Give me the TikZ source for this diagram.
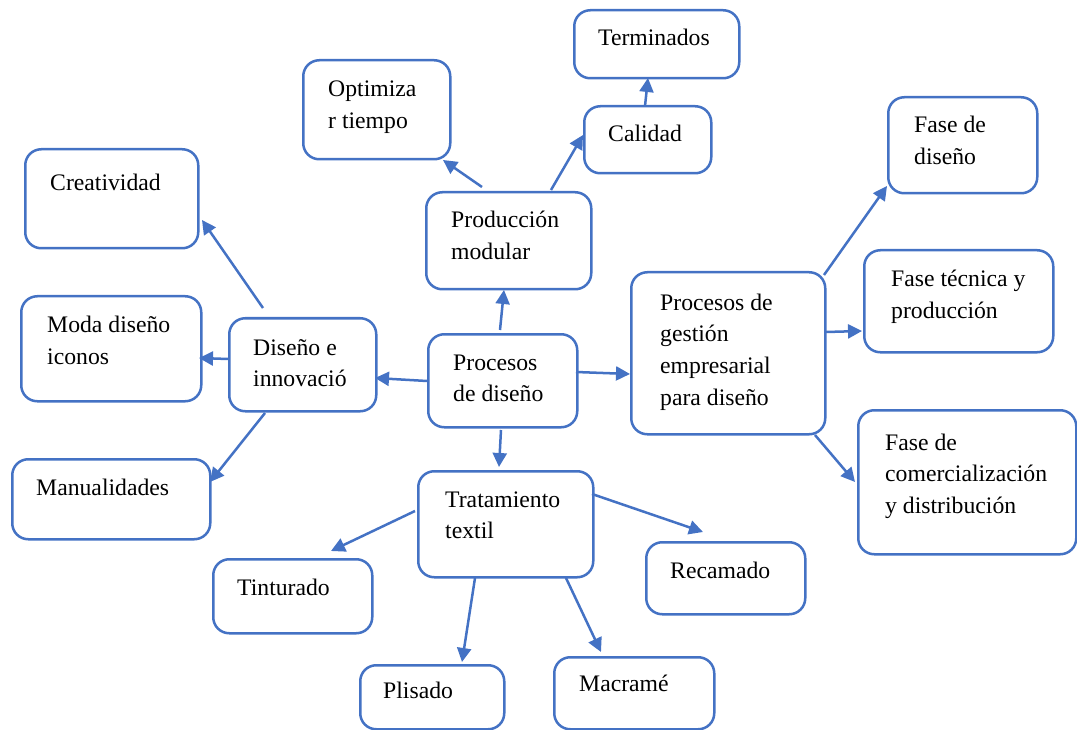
\documentclass[tikz,border=0pt]{standalone}
\usepackage{fontspec}
\setmainfont{Liberation Serif}
\usetikzlibrary{arrows.meta,calc}
\definecolor{wordblue}{HTML}{4472C4}
\newcommand\ml[1]{\begin{tabular}[t]{@{}l@{}}#1\end{tabular}}
\tikzset{
  box/.style={draw=wordblue, line width=2.5pt, rounded corners=16pt, fill=white, anchor=north west, inner sep=0pt},
  txt/.style={anchor=base west, inner sep=0pt, font=\fontsize{23.7}{31.8}\selectfont},
  arr/.style={draw=wordblue, line width=2.5pt, -{Triangle[length=14pt,width=14pt]}}
}
\begin{document}
\begin{tikzpicture}[x=1pt,y=-1pt]
\useasboundingbox (0,0) rectangle (1077,730);
% boxes
\node[box, minimum width=165pt, minimum height=68pt]  (t)    at (573,9)   {};
\node[box, minimum width=147pt, minimum height=99pt]  (opt)  at (302,59)  {};
\node[box, minimum width=127pt, minimum height=67pt]  (cal)  at (583,105) {};
\node[box, minimum width=165pt, minimum height=97pt]  (prod) at (425,191) {};
\node[box, minimum width=173pt, minimum height=99pt]  (cre)  at (24,148)  {};
\node[box, minimum width=149pt, minimum height=96pt]  (fd)   at (887,96)  {};
\node[box, minimum width=189pt, minimum height=102pt] (ft)   at (863,249) {};
\node[box, minimum width=194pt, minimum height=162pt] (ges)  at (630,271) {};
\node[box, minimum width=180pt, minimum height=105pt] (moda) at (20,295)  {};
\node[box, minimum width=147pt, minimum height=93pt]  (di)   at (228,317) {};
\node[box, minimum width=149pt, minimum height=93pt]  (pd)   at (427,333) {};
\node[box, minimum width=218pt, minimum height=144pt] (fc)   at (857,409) {};
\node[box, minimum width=198pt, minimum height=80pt]  (man)  at (11,458)  {};
\node[box, minimum width=175pt, minimum height=106pt] (tt)   at (417,470) {};
\node[box, minimum width=159pt, minimum height=72pt]  (rec)  at (645,541) {};
\node[box, minimum width=159pt, minimum height=74pt]  (tin)  at (212,558) {};
\node[box, minimum width=144pt, minimum height=64pt]  (pli)  at (359,664) {};
\node[box, minimum width=160pt, minimum height=72pt]  (mac)  at (553,656) {};
% texts
\node[txt] (t-t)    at (598,46)  {Terminados};
\node[txt] (opt-t)  at (328,97)  {\ml{Optimiza\\r tiempo}};
\node[txt] (cal-t)  at (608,142) {Calidad};
\node[txt] (prod-t) at (451,228) {\ml{Producción\\modular}};
\node[txt] (cre-t)  at (50,191)  {Creatividad};
\node[txt] (fd-t)   at (914,133) {\ml{Fase de\\diseño}};
\node[txt] (ft-t)   at (891,287) {\ml{Fase técnica y\\producción}};
\node[txt] (ges-t)  at (660,310) {\ml{Procesos de\\gestión\\empresarial\\para diseño}};
\node[txt] (moda-t) at (47,333)  {\ml{Moda diseño\\iconos}};
\node[txt] (di-t)   at (253,355) {\ml{Diseño e\\innovació}};
\node[txt] (pd-t)   at (453,370) {\ml{Procesos\\de diseño}};
\node[txt] (fc-t)   at (885,450) {\ml{Fase de\\comercialización\\y distribución}};
\node[txt] (man-t)  at (36,495)  {Manualidades};
\node[txt] (tt-t)   at (445,507) {\ml{Tratamiento\\textil}};
\node[txt] (rec-t)  at (670,578) {Recamado};
\node[txt] (tin-t)  at (237,595) {Tinturado};
\node[txt] (pli-t)  at (383,698) {Plisado};
\node[txt] (mac-t)  at (579,691) {Macramé};
% connectors
\draw[arr] ($(pd.north west)+(73,-3)$) -- ($(prod.north west)+(79,99)$);
\draw[arr] ($(pd.north west)+(0,48)$) -- ($(di.north west)+(147,61)$);
\draw[arr] ($(pd.north west)+(149,39)$) -- ($(ges.north west)+(0,103)$);
\draw[arr] ($(pd.north west)+(74,97)$) -- ($(tt.north west)+(82,-3)$);
\draw[arr] ($(prod.north west)+(57,-4)$) -- ($(opt.north west)+(141,101)$);
\draw[arr] ($(prod.north west)+(126,-1)$) -- ($(cal.north west)+(0,30)$);
\draw[arr] ($(cal.north west)+(62,1)$) -- ($(t.north west)+(75,69)$);
\draw[arr] ($(di.north west)+(35,-9)$) -- ($(cre.north west)+(178,72)$);
\draw[arr] ($(di.north west)+(0,42)$) -- ($(moda.north west)+(179,63)$);
\draw[arr] ($(di.north west)+(37,96)$) -- ($(man.north west)+(199,24)$);
\draw[arr] ($(ges.north west)+(194,4)$) -- ($(fd.north west)+(0,90)$);
\draw[arr] ($(ges.north west)+(196,61)$) -- ($(ft.north west)+(-1,82)$);
\draw[arr] ($(ges.north west)+(185,164)$) -- ($(fc.north west)+(-2,73)$);
\draw[arr] ($(tt.north west)+(-2,41)$) -- ($(tin.north west)+(119,-7)$);
\draw[arr] ($(tt.north west)+(175,24)$) -- ($(rec.north west)+(58,-9)$);
\draw[arr] ($(tt.north west)+(58,108)$) -- ($(pli.north west)+(103,-2)$);
\draw[arr] ($(tt.north west)+(149,108)$) -- ($(mac.north west)+(48,-4)$);
\end{tikzpicture}
\end{document}
